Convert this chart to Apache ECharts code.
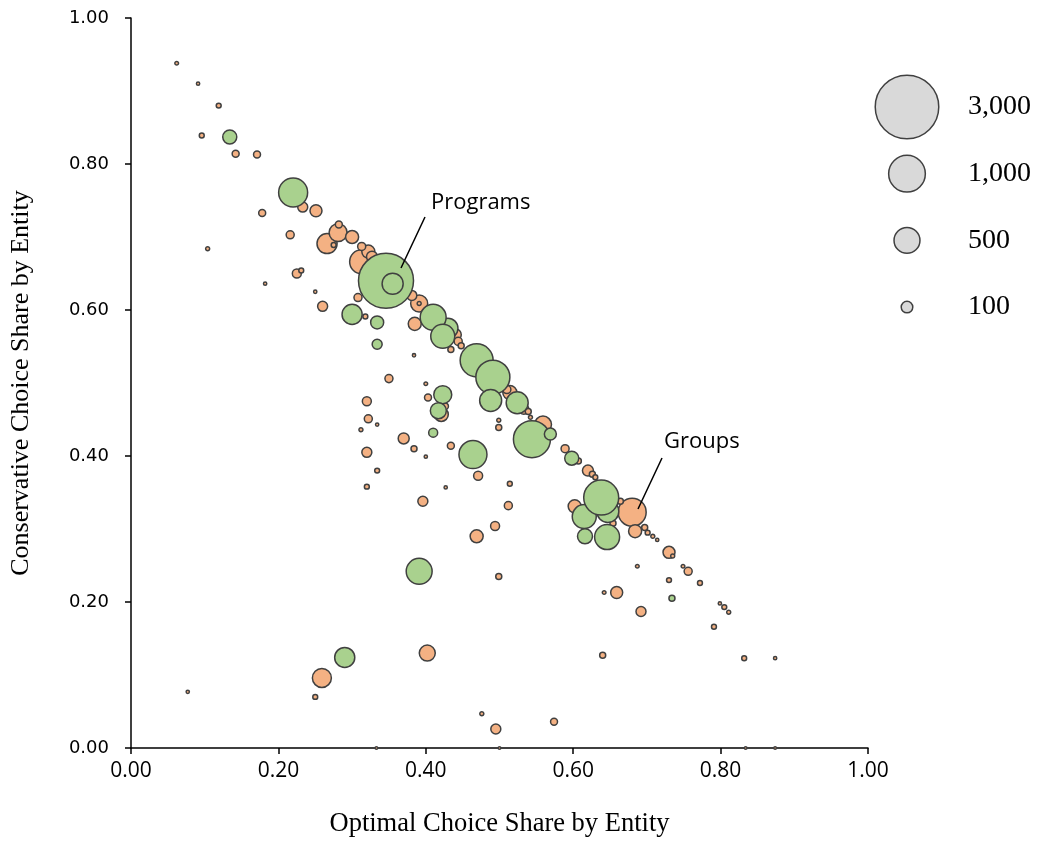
<!DOCTYPE html>
<html>
<head>
<meta charset="utf-8">
<script src="https://cdn.jsdelivr.net/npm/echarts@6/dist/echarts.min.js"></script>
<style>html,body{margin:0;padding:0;background:#fff}#c{width:1042px;height:843px}</style>
</head>
<body>
<div id="c"></div>
<script>
// [optimal share, conservative share, entity size]
const groupPoints = [
[0.062,0.938,10],[0.091,0.910,8],[0.119,0.880,18],[0.096,0.839,18],[0.142,0.814,36],[0.171,0.813,36],[0.233,0.741,74],[0.251,0.736,107],[0.178,0.733,36],[0.282,0.717,36],
[0.281,0.706,240],[0.300,0.700,126],[0.266,0.691,300],[0.275,0.689,18],[0.216,0.703,48],[0.104,0.684,12],[0.225,0.650,60],[0.231,0.654,18],[0.182,0.636,8],[0.250,0.625,8],
[0.260,0.605,74],[0.313,0.666,430],[0.322,0.680,126],[0.313,0.687,48],[0.327,0.673,90],[0.308,0.617,48],[0.381,0.620,74],[0.391,0.609,215],[0.391,0.609,12],[0.385,0.581,126],
[0.318,0.591,18],[0.384,0.538,8],[0.400,0.499,10],[0.403,0.480,36],[0.421,0.457,146],[0.426,0.468,36],[0.370,0.424,90],[0.384,0.410,27],[0.400,0.399,8],[0.434,0.414,36],
[0.350,0.506,48],[0.320,0.475,60],[0.322,0.451,48],[0.334,0.443,8],[0.312,0.436,12],[0.320,0.405,74],[0.334,0.380,18],[0.320,0.358,18],[0.427,0.357,8],[0.471,0.373,60],
[0.514,0.362,18],[0.512,0.332,48],[0.494,0.304,60],[0.469,0.290,126],[0.499,0.235,27],[0.499,0.449,12],[0.499,0.439,27],[0.396,0.338,74],[0.402,0.130,190],[0.259,0.096,268],
[0.250,0.070,18],[0.077,0.077,8],[0.476,0.047,12],[0.495,0.026,74],[0.574,0.036,36],[0.440,0.566,107],[0.444,0.557,48],[0.448,0.551,27],[0.434,0.546,27],[0.514,0.487,146],
[0.510,0.491,48],[0.533,0.464,74],[0.539,0.461,27],[0.542,0.453,12],[0.559,0.443,215],[0.589,0.410,48],[0.607,0.393,27],[0.620,0.380,90],[0.626,0.375,27],[0.630,0.371,18],
[0.602,0.331,126],[0.680,0.323,583],[0.684,0.297,126],[0.654,0.308,27],[0.664,0.338,27],[0.697,0.302,27],[0.701,0.295,18],[0.708,0.290,12],[0.714,0.285,8],[0.730,0.268,107],
[0.735,0.263,12],[0.687,0.249,10],[0.749,0.249,10],[0.756,0.242,48],[0.730,0.230,18],[0.772,0.226,18],[0.642,0.213,10],[0.659,0.213,107],[0.799,0.198,8],[0.805,0.193,18],
[0.811,0.186,12],[0.692,0.187,74],[0.791,0.166,18],[0.640,0.127,27],[0.832,0.123,18],[0.874,0.123,8],[0.333,0.000,5],[0.500,0.000,5],[0.834,0.000,5],[0.874,0.000,5]
];
// drawn in listed order (later entries on top)
const programPoints = [
[0.134,0.837,146],[0.220,0.761,625],[0.346,0.640,2250],[0.355,0.636,330],[0.300,0.594,300],[0.334,0.583,126],[0.334,0.553,74],[0.430,0.575,300],[0.410,0.590,500],[0.423,0.564,428],
[0.423,0.484,240],[0.417,0.462,190],[0.410,0.432,60],[0.469,0.531,810],[0.491,0.508,860],[0.488,0.476,360],[0.524,0.473,360],[0.464,0.402,583],[0.544,0.423,1017],[0.569,0.430,107],
[0.598,0.397,146],[0.615,0.317,428],[0.647,0.324,360],[0.638,0.343,910],[0.616,0.290,167],[0.646,0.289,464],[0.734,0.205,27],[0.391,0.242,500],[0.290,0.124,300]
];
const legendSizes = [3000, 1000, 500, 100];
const legendLabels = ['3,000', '1,000', '500', '100'];
const tickFmt = v => v.toFixed(2);
const xName = 'Optimal Choice Share by Entity';
const yName = 'Conservative Choice Share by Entity';
const annotations = ['Programs', 'Groups'];

const sizeFn = d => Math.max(2.5, 1.16 * Math.sqrt(d[2]));
const bySizeDesc = arr => arr.slice().sort((a, b) => b[2] - a[2]);
const border = {borderColor: '#404040', borderWidth: 1.5};

const chart = echarts.init(document.getElementById('c'), null, {renderer: 'canvas'});
chart.setOption({
  animation: false,
  backgroundColor: '#fff',
  grid: [
    {left: 131, right: 174, top: 18, bottom: 94},
    {left: 877, top: 73.7, width: 60, height: 266.7}
  ],
  xAxis: [
    {type: 'value', gridIndex: 0, min: 0, max: 1, interval: 0.2,
     axisLine: {lineStyle: {color: '#000', width: 1.5}},
     axisTick: {length: 6, lineStyle: {color: '#000', width: 1.5}},
     splitLine: {show: false},
     axisLabel: {formatter: tickFmt, fontFamily: 'Open Sans', fontSize: 21, color: '#000', margin: 13},
     name: xName, nameLocation: 'middle', nameGap: 63,
     nameTextStyle: {fontFamily: 'Liberation Serif', fontSize: 26.5, color: '#000'}},
    {type: 'category', gridIndex: 1, data: [''], show: false}
  ],
  yAxis: [
    {type: 'value', gridIndex: 0, min: 0, max: 1, interval: 0.2,
     axisLine: {show: true, lineStyle: {color: '#000', width: 1.5}},
     axisTick: {show: true, length: 6, lineStyle: {color: '#000', width: 1.5}},
     splitLine: {show: false},
     axisLabel: {formatter: tickFmt, fontFamily: 'DejaVu Sans', fontSize: 18, color: '#000', margin: 22},
     name: yName, nameLocation: 'middle', nameGap: 97, nameRotate: 90,
     nameTextStyle: {fontFamily: 'Liberation Serif', fontSize: 26, color: '#000'}},
    {type: 'category', gridIndex: 1, data: legendLabels, inverse: true, position: 'right',
     axisLine: {show: false}, axisTick: {show: false}, splitLine: {show: false},
     axisLabel: {margin: 31, fontFamily: 'Liberation Serif', fontSize: 28, color: '#000', align: 'left'}}
  ],
  series: [
    {type: 'scatter', name: 'Groups', xAxisIndex: 0, yAxisIndex: 0, z: 2,
     data: bySizeDesc(groupPoints), symbolSize: sizeFn,
     itemStyle: Object.assign({color: '#F4B183', opacity: 1}, border)},
    {type: 'scatter', name: 'Programs', xAxisIndex: 0, yAxisIndex: 0, z: 3,
     data: programPoints, symbolSize: sizeFn,
     itemStyle: Object.assign({color: '#A9D18E', opacity: 1}, border)},
    {type: 'scatter', name: 'size', xAxisIndex: 1, yAxisIndex: 1, z: 3,
     data: legendSizes.map((s, i) => [0, i, s]), symbolSize: sizeFn,
     itemStyle: Object.assign({color: '#D9D9D9', opacity: 1}, border)}
  ],
  graphic: [
    {type: 'line', shape: {x1: 425, y1: 217, x2: 401, y2: 268}, style: {stroke: '#000', lineWidth: 1.5}, z: 10},
    {type: 'line', shape: {x1: 662, y1: 458, x2: 638, y2: 509}, style: {stroke: '#000', lineWidth: 1.5}, z: 10},
    {type: 'text', x: 431, y: 203, z: 10, style: {text: annotations[0], font: '22px "Open Sans"', fill: '#000', verticalAlign: 'middle'}},
    {type: 'text', x: 664, y: 442, z: 10, style: {text: annotations[1], font: '22px "Open Sans"', fill: '#000', verticalAlign: 'middle'}}
  ]
});
</script>
</body>
</html>
